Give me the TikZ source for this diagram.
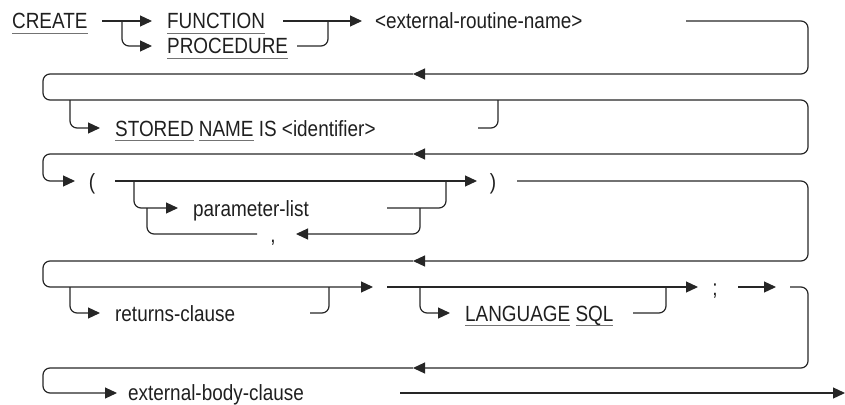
\documentclass[tikz,border=0pt]{standalone}
\usepackage{fontspec}
\setmainfont{Liberation Sans}
\usetikzlibrary{arrows.meta}
\newsavebox{\ulbox}
\newcommand{\ulw}[1]{\sbox{\ulbox}{#1}\rlap{\textcolor{black!55}{\rule[-5pt]{\wd\ulbox}{1pt}}}\usebox{\ulbox}}
\begin{document}
\begin{tikzpicture}[x=1pt,y=-1pt,
  txt/.style={font=\fontsize{22}{26}\selectfont, inner sep=0pt, anchor=base west, xscale=0.86, text=black!88},
  ctxt/.style={txt, anchor=base},
  ln/.style={line width=1.2pt, draw=black!85, rounded corners=7pt},
  arr/.style={ln, -{Triangle[length=12pt,width=11pt]}}]
\useasboundingbox (0,0) rectangle (845,404);
% ---------- texts ----------
\node[txt] (create) at (12,29) {\ulw{CREATE}};
\node[txt] (func) at (167,29) {\ulw{FUNCTION}};
\node[txt] (proc) at (167,54) {\ulw{PROCEDURE}};
\node[txt] (ern) at (375,29) {<external-routine-name>};
\node[txt] (stored) at (115,136) {\ulw{STORED} \ulw{NAME} IS <identifier>};
\node[ctxt] (lpar) at (92,189) {(};
\node[txt] (plist) at (193,216) {parameter-list};
\node[ctxt] (comma) at (273,242) {,};
\node[ctxt] (rpar) at (493,189) {)};
\node[txt] (ret) at (115,321) {returns-clause};
\node[txt] (lang) at (465,321) {\ulw{LANGUAGE} \ulw{SQL}};
\node[ctxt] (semi) at (715,295) {;};
\node[txt] (ebc) at (128,400) {external-body-clause};
% ---------- junction coordinates ----------
\coordinate (a1) at (102,21);  \coordinate (a1f) at (152,21);
\coordinate (a2) at (122,21);  \coordinate (a2p) at (152,46);
\coordinate (a3) at (283,21);  \coordinate (a3e) at (362,21);
\coordinate (a4) at (297,46);  \coordinate (a4j) at (328,21);
\coordinate (a5) at (686,21);  \coordinate (rt1) at (808,74);
\coordinate (m1) at (413,74);  \coordinate (l1) at (43,74);
\coordinate (l1b) at (43,100); \coordinate (rt2) at (808,100);
\coordinate (rt2b) at (808,154); \coordinate (m2) at (413,154);
\coordinate (s1) at (70,100);  \coordinate (s1e) at (100,128);
\coordinate (s2) at (478,128); \coordinate (s2j) at (498,100);
\coordinate (l2) at (43,154);  \coordinate (o1) at (75,181);
\coordinate (o2) at (115,181); \coordinate (o2e) at (477,181);
\coordinate (p1) at (134,181); \coordinate (p1e) at (178,208);
\coordinate (p2) at (387,208); \coordinate (p2j) at (446,181);
\coordinate (c1) at (420,208); \coordinate (c1e) at (296,234);
\coordinate (c2) at (257,234); \coordinate (c2j) at (147,208);
\coordinate (q1) at (517,181); \coordinate (rt3) at (808,261);
\coordinate (m3) at (413,261); \coordinate (l3) at (43,261);
\coordinate (r1e) at (373,287);
\coordinate (rc1) at (70,287);  \coordinate (rc1e) at (100,313);
\coordinate (rc2) at (310,313); \coordinate (rc2j) at (329,287);
\coordinate (g1) at (387,287);  \coordinate (g1e) at (698,287);
\coordinate (lg1) at (420,287); \coordinate (lg1e) at (450,313);
\coordinate (lg2) at (633,313); \coordinate (lg2j) at (666,287);
\coordinate (sc1) at (738,287); \coordinate (sc1e) at (776,287);
\coordinate (sc2) at (790,287); \coordinate (rt4) at (808,368);
\coordinate (m4) at (413,368); \coordinate (l4) at (43,368);
\coordinate (e1e) at (117,393);
\coordinate (e2) at (400,393); \coordinate (fin) at (845,393);
% ---------- connectors ----------
\draw[arr] (a1) -- (a1f);
\draw[arr] (a2) |- (a2p);
\draw[arr] (a3) -- (a3e);
\draw[ln] (a4) -| (a4j);
\draw[arr] (a5) -| (rt1) -- (m1);
\draw[arr] (m1) -- (l1) -- (l1b) -- (rt2) -- (rt2b) -- (m2);
\draw[arr] (s1) |- (s1e);
\draw[ln] (s2) -| (s2j);
\draw[arr] (m2) -- (l2) |- (o1);
\draw[arr] (o2) -- (o2e);
\draw[arr] (p1) |- (p1e);
\draw[ln] (p2) -| (p2j);
\draw[arr] (c1) |- (c1e);
\draw[ln] (c2) -| (c2j);
\draw[arr] (q1) -| (rt3) -- (m3);
\draw[arr] (m3) -- (l3) |- (r1e);
\draw[arr] (rc1) |- (rc1e);
\draw[ln] (rc2) -| (rc2j);
\draw[arr] (g1) -- (g1e);
\draw[arr] (lg1) |- (lg1e);
\draw[ln] (lg2) -| (lg2j);
\draw[arr] (sc1) -- (sc1e);
\draw[arr] (sc2) -| (rt4) -- (m4);
\draw[arr] (m4) -- (l4) |- (e1e);
\draw[arr] (e2) -- (fin);
\end{tikzpicture}
\end{document}
